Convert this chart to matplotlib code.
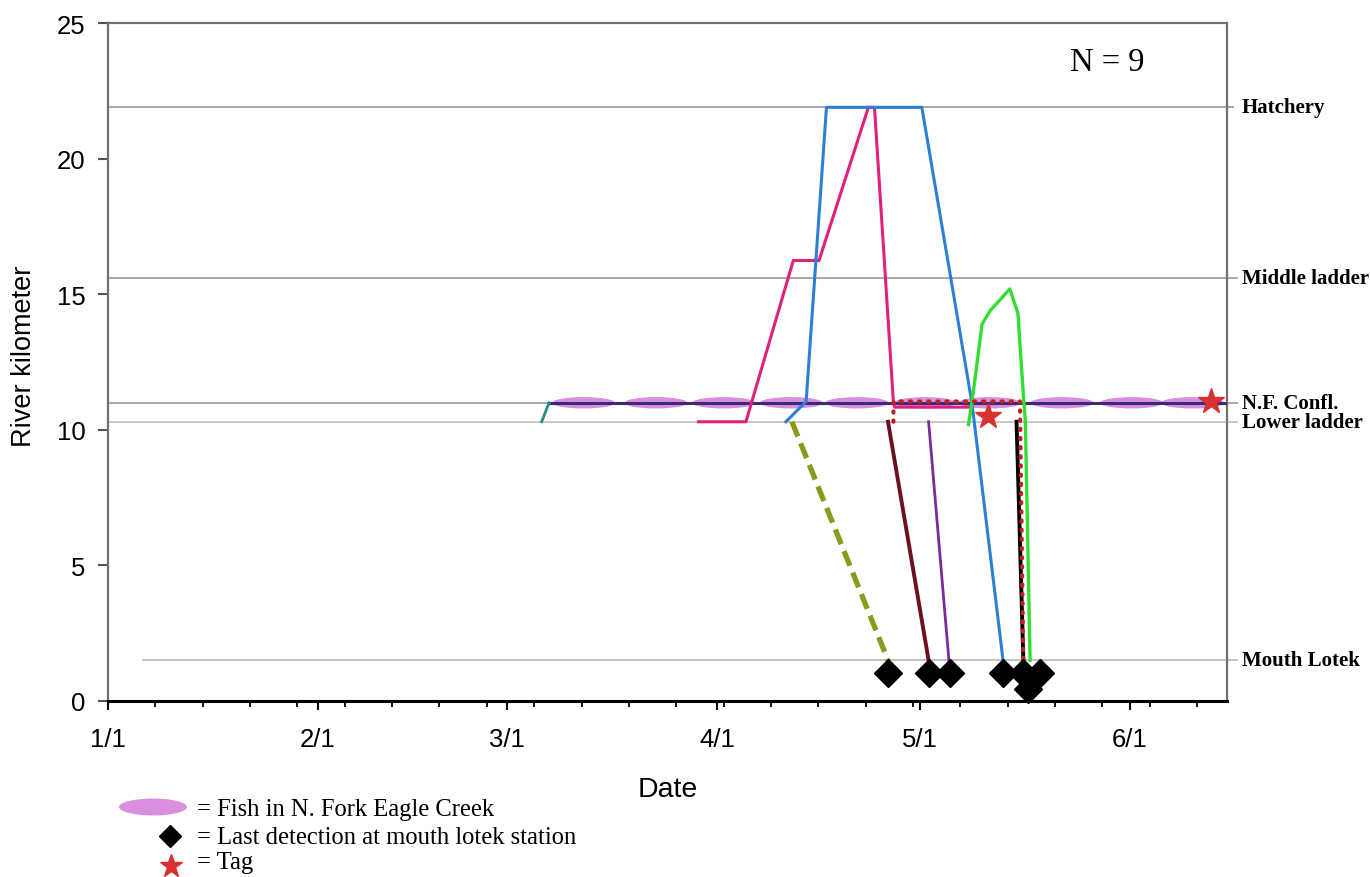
import matplotlib
matplotlib.use("Agg")
import matplotlib.pyplot as plt
from matplotlib.patches import Ellipse

# day 0 = Jan 1 (non-leap year)
month_days = [0, 31, 59, 90, 120, 151]
month_labels = ["1/1", "2/1", "3/1", "4/1", "5/1", "6/1"]
week_days = list(range(0, 166, 7))
x_end = 165.4

site_names = ["Hatchery", "Middle ladder", "N.F. Confl.", "Lower ladder", "Mouth Lotek"]
site_km = [21.9, 15.6, 11.0, 10.3, 1.5]

# fish tracks (day, river km)
teal_day = [64.1, 65.2]
teal_km = [10.3, 11.0]
nf_day = [65.2, x_end]
nf_km = [11.0, 11.0]
magenta_day = [87.3, 94.3, 101.3, 105.1, 112.4, 113.3, 116.1, 116.3, 127.4, 127.7]
magenta_km = [10.3, 10.3, 16.25, 16.25, 21.9, 21.9, 11.0, 10.84, 10.84, 11.0]
blue_day = [100.2, 103.2, 106.2, 120.3, 127.7, 132.3]
blue_km = [10.3, 11.05, 21.9, 21.9, 11.0, 1.5]
olive_day = [101.1, 115.3]
olive_km = [10.3, 1.5]
maroon_day = [115.3, 121.3]
maroon_km = [10.3, 1.5]
purple_day = [121.3, 124.3]
purple_km = [10.3, 1.5]
green_day = [127.2, 127.7, 129.2, 130.4, 133.3, 134.5, 135.3, 135.6, 136.3]
green_km = [10.2, 11.0, 13.9, 14.4, 15.2, 14.3, 11.3, 10.3, 1.5]
black_day = [134.3, 135.3]
black_km = [10.3, 1.5]
red_day = [116.1, 116.1, 134.8, 135.3]
red_km = [10.3, 11.05, 11.05, 1.5]

last_det_day = [115.3, 121.3, 124.4, 132.3, 135.2, 137.7, 136.0]
last_det_km = [1.05, 1.05, 1.05, 1.05, 1.05, 1.05, 0.45]
tag_day = [130.1, 163.1]
tag_km = [10.5, 11.08]
nf_fish_day = [70.3, 81.0, 91.0, 101.0, 110.7, 120.8, 130.3, 141.0, 151.3, 160.3]

sans = ["Liberation Sans", "DejaVu Sans"]
serif = ["Liberation Serif", "DejaVu Serif"]

fig = plt.figure(figsize=(13.7, 8.78), dpi=100)
ax = fig.add_axes([0.0788, 0.2005, 0.8168, 0.7718])
ax.set_xlim(0, x_end)
ax.set_ylim(0, 25)

# site reference lines
yt = ax.get_yaxis_transform()
site_start = [0, 0, 0, 0, 0.031]
site_end = [1.005, 1.009, 1.009, 1.009, 1.009]
site_col = ["#a0a0a0", "#a0a0a0", "#a0a0a0", "#c4c4c4", "#bdbdbd"]
for km, name, x0, x1, c in zip(site_km, site_names, site_start, site_end, site_col):
    ax.plot([x0, x1], [km, km], color=c, lw=1.3, transform=yt, clip_on=False, zorder=1)
    ax.text(1.0134, km, name, transform=yt, ha="left", va="center",
            fontsize=15, fontweight="bold", family=serif)

# fish in N. Fork Eagle Creek
for d in nf_fish_day:
    ax.add_patch(Ellipse((d, 11.0), 9.3, 0.42, color="#d98fdd", lw=0, zorder=2))

ax.plot(nf_day, nf_km, color="#3b2a7a", lw=2.2, zorder=3)
ax.plot(teal_day, teal_km, color="#2a8a8a", lw=2, zorder=3)
ax.plot(magenta_day, magenta_km, color="#e0207a", lw=2.2, zorder=4)
ax.plot(blue_day, blue_km, color="#2b7fd4", lw=2.2, zorder=4)
ax.plot(olive_day, olive_km, color="#8a9a1a", lw=3.8, dashes=(3, 1.4), zorder=4)
ax.plot(maroon_day, maroon_km, color="#6b1020", lw=2.8, zorder=4)
ax.plot(purple_day, purple_km, color="#7a2a9a", lw=2, zorder=4)
ax.plot(green_day, green_km, color="#33dd33", lw=2.4, zorder=4)
ax.plot(black_day, black_km, color="black", lw=2.8, zorder=4)
ax.plot(red_day, red_km, color="#c02020", lw=3, dashes=(0.3, 1.9),
        dash_capstyle="round", zorder=5)

ax.plot(last_det_day, last_det_km, "D", color="black", ms=14, zorder=6, clip_on=False)
ax.plot(tag_day, tag_km, "*", color="#d93030", ms=19, zorder=6)

ax.text(0.893, 0.944, "N = 9", transform=ax.transAxes, ha="center", va="center",
        fontsize=23.5, family=serif)

# axes styling
ax.set_xticks(month_days)
ax.set_xticklabels(month_labels)
ax.set_xticks(week_days, minor=True)
ax.set_yticks([0, 5, 10, 15, 20, 25])
ax.tick_params(axis="x", which="major", direction="out", length=6.5, width=1.5,
               pad=12, labelsize=18.5)
ax.tick_params(axis="x", which="minor", direction="out", length=4, width=1.3)
ax.tick_params(axis="y", direction="out", length=7, width=1.5, pad=9,
               labelsize=18.5, color="#555555")
for lab in ax.get_xticklabels() + ax.get_yticklabels():
    lab.set_family(sans)
for s in ["left", "right", "top"]:
    ax.spines[s].set_color("#707070")
    ax.spines[s].set_linewidth(1.6)
ax.spines["bottom"].set_color("black")
ax.spines["bottom"].set_linewidth(2.2)

ax.set_ylabel("River kilometer", fontsize=19.5, family=sans)
ax.yaxis.set_label_coords(-0.0634, 0.51)
ax.set_xlabel("Date", fontsize=20.5, family=sans)
ax.xaxis.set_label_coords(0.5, -0.11)

# key at the bottom (figure pixel coordinates)
key = fig.add_axes([0, 0, 1, 1], zorder=-1)
key.set_xlim(0, 1370)
key.set_ylim(878, 0)
key.axis("off")
key.add_patch(Ellipse((153, 808), 68, 17, color="#d98fdd", lw=0))
key.plot([170], [837], "D", color="black", ms=11)
key.plot([171], [867], "*", color="#d93030", ms=17)
key_text = ["= Fish in N. Fork Eagle Creek", "= Last detection at mouth lotek station", "= Tag"]
for t, y in zip(key_text, [810, 838, 863]):
    key.text(197, y, t, ha="left", va="center", fontsize=17.7, family=serif)

fig.savefig("out.png", dpi=100)
